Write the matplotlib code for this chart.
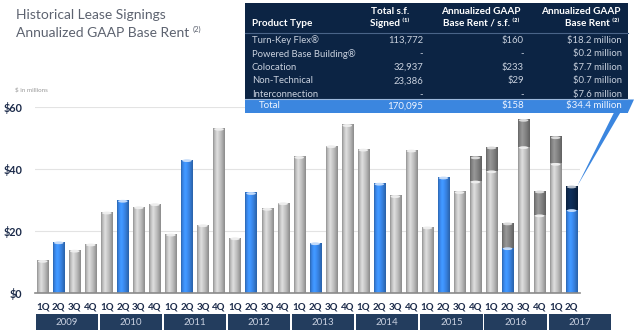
import matplotlib.pyplot as plt
import numpy as np
import matplotlib.transforms as mtransforms
from matplotlib.patches import Rectangle, Ellipse, Polygon
from matplotlib.colors import to_rgb
from matplotlib.lines import Line2D

plt.rcParams['font.family'] = ['Lato', 'DejaVu Sans']

# data ($ millions)
quarters = ['1Q', '2Q', '3Q', '4Q'] * 8 + ['1Q', '2Q']
years = ['2009', '2010', '2011', '2012', '2013', '2014', '2015', '2016', '2017']
base = [10.4, 16.4, 13.7, 15.7, 26.0, 29.8, 27.7, 28.7,
        18.9, 42.9, 21.9, 53.0, 17.7, 32.3, 27.2, 29.0,
        43.9, 16.1, 47.4, 54.2, 46.3, 35.3, 31.3, 46.0,
        21.2, 37.3, 32.6, 36.0, 39.3, 14.5, 47.1, 25.1,
        41.7, 26.8]
interconnection = [0] * 27 + [7.8, 7.7, 8.0, 8.8, 7.7, 8.6, 7.6]

products = ['Turn-Key Flex®', 'Powered Base Building®', 'Colocation', 'Non-Technical', 'Interconnection']
sf_signed = ['113,772', '-', '32,937', '23,386', '-']
rent_psf = ['$160', '-', '$233', '$29', '-']
rent = ['$18.2 million', '$0.2 million', '$7.7 million', '$0.7 million', '$7.6 million']
total_row = ['Total', '170,095', '$158', '$34.4 million']

GRAY = '#c2c2c2'
BLUE = '#3a88ea'
DARKGRAY = '#858585'
NAVY = '#0d2a50'
BAND = '#233d5e'
TABLE = '#0c2444'
TEXTNAVY = '#1c2b4a'

W, H = 640, 333
fig = plt.figure(figsize=(6.4, 3.33), dpi=100)


def fx(x):
    return x / W


def fy(y):
    return 1 - y / H


ax = fig.add_axes([fx(34.7), fy(292.7), 545 / W, 186 / H])

x = np.arange(len(quarters))
base_colors = [BLUE if q == '2Q' else GRAY for q in quarters]
top_colors = [NAVY if i == len(quarters) - 1 else DARKGRAY for i in range(len(quarters))]

b1 = ax.bar(x, base, width=0.7, color=base_colors, zorder=2)
b2 = ax.bar(x, interconnection, bottom=base, width=0.7, color=top_colors, zorder=2)

# cylinder shading
t = np.linspace(0, 1, 40)
prof = np.interp(t, [0, 0.12, 0.35, 0.7, 1], [0.75, 0.95, 1.15, 0.95, 0.72])
for container in (b1, b2):
    for p in container:
        h = p.get_height()
        if h <= 0:
            continue
        c = np.array(to_rgb(p.get_facecolor()))
        img = np.clip(prof[:, None] * c[None, :], 0, 1)[None, :, :]
        x0, y0, w = p.get_x(), p.get_y(), p.get_width()
        ax.imshow(img, extent=[x0, x0 + w, y0, y0 + h], aspect='auto',
                  interpolation='bilinear', zorder=3)
        cap = np.clip(c + (1 - c) * 0.7, 0, 1)
        ax.add_patch(Ellipse((x0 + w / 2, y0 + h - 0.3), w * 0.85, 0.9,
                             facecolor=cap, edgecolor='none', zorder=4))

ax.set_xlim(-0.5, 33.5)
ax.set_ylim(0, 60)

ax.set_yticks([0, 20, 40, 60])
ax.set_yticklabels(['$0', '$20', '$40', '$60'])
ax.yaxis.grid(True, color='#e3e3e3', lw=0.8)
ax.set_axisbelow(True)
for s in ['top', 'right', 'left']:
    ax.spines[s].set_visible(False)
ax.spines['bottom'].set_color('#8a8a8a')
ax.spines['bottom'].set_linewidth(1.2)
ax.spines['bottom'].set_zorder(5)
ax.tick_params(axis='y', length=0, pad=9, labelsize=7.8, labelcolor=TEXTNAVY)
ax.set_xticks(x)
ax.set_xticklabels(quarters)
ax.tick_params(axis='x', length=0, pad=7, labelsize=7, labelcolor=TEXTNAVY)
for lab in ax.get_xticklabels() + ax.get_yticklabels():
    lab.set_fontweight('bold')

# year bands
trans = mtransforms.blended_transform_factory(ax.transData, ax.transAxes)
for i, yr in enumerate(years):
    ax.add_patch(Rectangle((4 * i - 0.5 + 0.06, -0.203), 3.88, 0.087, transform=trans,
                           clip_on=False, facecolor=BAND, edgecolor='none'))
    ax.text(4 * i + 1.5, -0.16, yr, transform=trans, ha='center', va='center',
            fontsize=7, color='#c8d0e0')

# titles
fig.text(fx(16), fy(15), 'Historical Lease Signings', fontsize=10, color='#5d6370',
         va='center')
t2 = fig.text(fx(16), fy(33), 'Annualized GAAP Base Rent', fontsize=10, color='#5d6370',
              va='center')
bb = t2.get_window_extent(renderer=fig.canvas.get_renderer())
fig.text(fx(bb.x1 + 3), fy(29.5), '(2)', fontsize=5.5, color='#5d6370', va='center')
fig.text(fx(15), fy(90), '$ in millions', fontsize=4.5, color='#9a9a9a', va='center')


def rect(x0, y0, x1, y1, color, z=10):
    fig.add_artist(Rectangle((fx(x0), fy(y1)), (x1 - x0) / W, (y1 - y0) / H,
                             transform=fig.transFigure, facecolor=color,
                             edgecolor='none', zorder=z))


# callout from table total to last bar
p = b2[-1]
apex = ax.transData.transform((p.get_x() + p.get_width(), p.get_y() + p.get_height()))
apex = fig.transFigure.inverted().transform(apex)
fig.add_artist(Polygon([apex, (fx(614), fy(112.5)), (fx(628), fy(112.5)),
                        (fx(634), fy(99.5)), (fx(628), fy(99.5))],
                       closed=True, transform=fig.transFigure, facecolor='#3b86df',
                       edgecolor='none', zorder=9))

# table
rect(245, 3, 628, 99, TABLE)
rect(245, 99, 628, 113, '#3b86df')
fig.add_artist(Line2D([fx(245), fx(628)], [fy(33), fy(33)], transform=fig.transFigure,
                      color='#4a6488', lw=0.8, zorder=11))
fig.add_artist(Line2D([fx(245), fx(628)], [fy(98.8), fy(98.8)], transform=fig.transFigure,
                      color='#9db8dc', lw=0.8, zorder=11))

hdr = dict(fontsize=7.2, color='white', fontweight='bold', va='center', zorder=12)
fig.text(fx(252), fy(23), 'Product Type', ha='left', **hdr)
fig.text(fx(390), fy(12), 'Total s.f.', ha='center', **hdr)
fig.text(fx(390), fy(23), 'Signed ⁽¹⁾', ha='center', **hdr)
fig.text(fx(481), fy(12), 'Annualized GAAP', ha='center', **hdr)
fig.text(fx(481), fy(23), 'Base Rent / s.f. ⁽²⁾', ha='center', **hdr)
fig.text(fx(621), fy(12), 'Annualized GAAP', ha='right', **hdr)
fig.text(fx(619), fy(23), 'Base Rent ⁽²⁾', ha='right', **hdr)

body = dict(fontsize=6.8, color='#c9d1de', va='center', zorder=12)
for i in range(len(products)):
    yy = fy(40.5 + 13.45 * i)
    fig.text(fx(252), yy, products[i], ha='left', **body)
    fig.text(fx(423), yy, sf_signed[i], ha='right', **body)
    fig.text(fx(524), yy, rent_psf[i], ha='right', **body)
    fig.text(fx(622), yy, rent[i], ha='right', **body)

tot = dict(fontsize=7, color='#eef4ff', va='center', zorder=12)
fig.text(fx(259), fy(106), total_row[0], ha='left', **tot)
fig.text(fx(423), fy(106), total_row[1], ha='right', **tot)
fig.text(fx(524), fy(106), total_row[2], ha='right', **tot)
fig.text(fx(622), fy(106), total_row[3], ha='right', **tot)

fig.savefig('out.png', dpi=100)
